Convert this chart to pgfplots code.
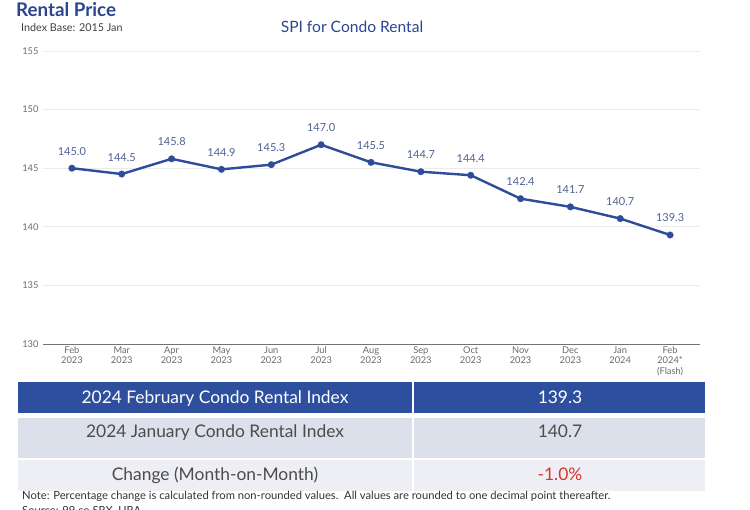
\documentclass[border=0pt]{standalone}
\usepackage{pgfplots}
\pgfplotsset{compat=1.18}
\usepackage{fontspec}
\setmainfont{Lato}

\definecolor{navy}{HTML}{2E4C9A}
\definecolor{titleblue}{HTML}{2B4590}
\definecolor{hdrblue}{HTML}{2D4F9E}
\definecolor{rowgray}{HTML}{DCE0EB}
\definecolor{rowlight}{HTML}{EEEFF5}
\definecolor{lblblue}{HTML}{4F6293}
\definecolor{tickgray}{HTML}{6A6A6A}
\definecolor{negred}{HTML}{D9342B}

\newcommand{\fs}[1]{\fontsize{#1}{#1}\selectfont}

\begin{document}
\begin{tikzpicture}[x=1pt,y=1pt]
\path[use as bounding box] (0,0) rectangle (750,510);

% headings
\node[anchor=base west, inner sep=0, text=titleblue, font=\fs{18.8}\bfseries] at (16,493) {Rental Price};
\node[anchor=base west, inner sep=0, text=black!75, font=\fs{10.8}] at (21,478) {Index Base: 2015 Jan};
\node[anchor=base, inner sep=0, text=titleblue, font=\fs{15.6}] at (352,477) {SPI for Condo Rental};

\begin{axis}[
  at={(43pt,166pt)}, anchor=south west,
  scale only axis, width=657pt, height=293pt,
  xmin=-0.58, xmax=12.6, ymin=130, ymax=155,
  ytick={130,135,140,145,150,155},
  xtick={0,...,12},
  xticklabels={{Feb\\2023},{Mar\\2023},{Apr\\2023},{May\\2023},{Jun\\2023},{Jul\\2023},{Aug\\2023},{Sep\\2023},{Oct\\2023},{Nov\\2023},{Dec\\2023},{Jan\\2024},{Feb\\2024*\\(Flash)}},
  axis x line*=bottom, axis y line*=left,
  x axis line style={draw=black!55, line width=0.9pt, -},
  y axis line style={draw=none},
  major tick length=0pt,
  ymajorgrids, grid style={draw=black!8, line width=0.8pt},
  /pgf/number format/assume math mode=true,
  yticklabel style={font=\fs{9.3}, text=tickgray, xshift=-1pt},
  xticklabel style={font=\fontsize{9.3}{10.5}\selectfont, text=tickgray, align=center, yshift=1pt},
  nodes near coords,
  point meta=y,
  nodes near coords style={/pgf/number format/fixed, /pgf/number format/fixed zerofill, /pgf/number format/precision=1},
  every node near coord/.append style={anchor=base, inner sep=0pt, yshift=13pt, font=\fs{11}, text=lblblue},
  clip=false,
]
\addplot[navy, line width=2.4pt, mark=*, mark size=3.3pt, mark options={solid, fill=navy, draw=navy, line width=0.3pt}]
  coordinates {(0,145.0) (1,144.5) (2,145.8) (3,144.9) (4,145.3) (5,147.0) (6,145.5)
               (7,144.7) (8,144.4) (9,142.4) (10,141.7) (11,140.7) (12,139.3)};
\end{axis}

% summary table
\fill[hdrblue] (18,97) rectangle (412,128);
\fill[hdrblue] (414,97) rectangle (705,128);
\fill[rowgray] (18,52) rectangle (412,92);
\fill[rowgray] (414,52) rectangle (705,92);
\fill[rowlight] (18,19) rectangle (412,50);
\fill[rowlight] (414,19) rectangle (705,50);

\node[anchor=base, inner sep=0, text=white, font=\fs{17.4}] at (215,106) {2024 February Condo Rental Index};
\node[anchor=base, inner sep=0, text=white, font=\fs{17.4}] at (560,106) {139.3};
\node[anchor=base, inner sep=0, text=black!70, font=\fs{17.4}] at (215,72) {2024 January Condo Rental Index};
\node[anchor=base, inner sep=0, text=black!70, font=\fs{17.4}] at (560,72) {140.7};
\node[anchor=base, inner sep=0, text=black!70, font=\fs{17.4}] at (215,29) {Change (Month-on-Month)};
\node[anchor=base, inner sep=0, text=negred, font=\fs{17.4}] at (560,29) {-1.0\%};

\node[anchor=base west, inner sep=0, text=black!80, font=\fs{11.2}] at (22,10) {Note: Percentage change is calculated from non-rounded values.\ \ All values are rounded to one decimal point thereafter.};
\node[anchor=base west, inner sep=0, text=black!80, font=\fs{11.2}] at (22,-5) {Source: 99.co SRX, URA};
\end{tikzpicture}
\end{document}
